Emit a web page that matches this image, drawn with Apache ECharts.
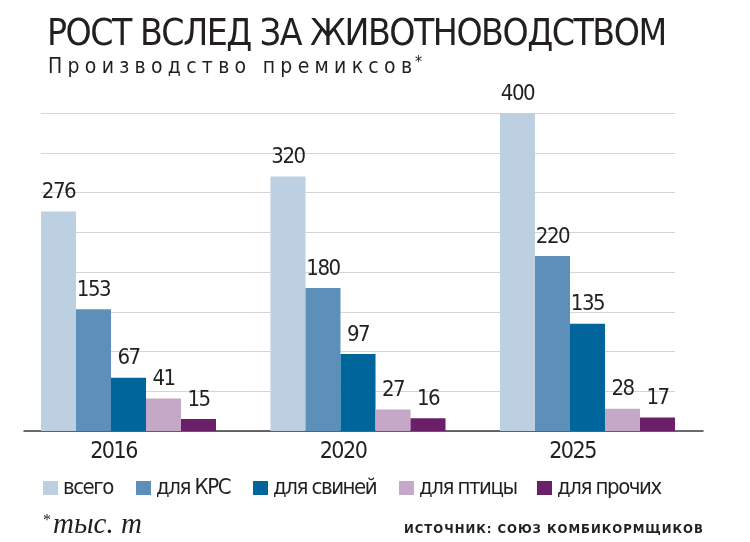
<!DOCTYPE html>
<html>
<head>
<meta charset="utf-8">
<script src="https://cdn.jsdelivr.net/npm/echarts@6/dist/echarts.min.js"></script>
<style>html,body{margin:0;padding:0;background:#fff;}#main{width:750px;height:542px;}</style>
</head>
<body>
<div id="main"></div>
<script>
const categories = ['2016', '2020', '2025'];
const seriesNames = ['всего', 'для КРС', 'для свиней', 'для птицы', 'для прочих'];
const totalValues = [276, 320, 400];
const cattleValues = [153, 180, 220];
const pigValues = [67, 97, 135];
const poultryValues = [41, 27, 28];
const otherValues = [15, 16, 17];
const yTicks = [0, 50, 100, 150, 200, 250, 300, 350, 400];

const titleText = 'РОСТ ВСЛЕД ЗА ЖИВОТНОВОДСТВОМ';
const subtitleText = 'Производство премиксов';
const unitText = 'тыс. т';
const sourceText = 'ИСТОЧНИК: СОЮЗ КОМБИКОРМЩИКОВ';

const FONT = "'Liberation Sans Narrow', 'DejaVu Sans Condensed', 'Roboto Condensed', sans-serif";
const SERIF = '"Liberation Serif", "DejaVu Serif", serif';
const colors = ['#bdd0e1', '#5c90ba', '#00659a', '#c5a8c7', '#6b1f69'];
const ink = '#231f20';

const titleFont = 'normal 37px ' + FONT;
const subtitleFont = 'normal 21px ' + FONT;
const unitFont = 'italic 29px ' + SERIF;
const sourceFont = 'bold 13px ' + FONT;

// letter spacing support for selected texts
const spacingMap = {};
const mctx = document.createElement('canvas').getContext('2d');
function fitSpacing(text, font, target) {
  mctx.font = font;
  const w = mctx.measureText(text).width;
  spacingMap[text] = (target - w) / (text.length - 1);
}
fitSpacing(titleText, titleFont, 620);
fitSpacing(subtitleText, subtitleFont, 364);
fitSpacing(unitText, unitFont, 89);
fitSpacing(sourceText, sourceFont, 299);
const origFill = CanvasRenderingContext2D.prototype.fillText;
CanvasRenderingContext2D.prototype.fillText = function (t, x, y) {
  const ls = spacingMap[t];
  if (ls != null && 'letterSpacing' in this) {
    const prev = this.letterSpacing;
    this.letterSpacing = ls.toFixed(2) + 'px';
    origFill.call(this, t, x, y);
    this.letterSpacing = prev;
    return;
  }
  return origFill.apply(this, arguments);
};

const valueLists = [totalValues, cattleValues, pigValues, poultryValues, otherValues];
const legendLefts = [43, 136, 253, 399, 537];

const chart = echarts.init(document.getElementById('main'), null, { renderer: 'canvas' });
const gridTop = 113, gridHeight = 318;

const option = {
  animation: false,
  backgroundColor: '#fff',
  grid: [
    { left: 13.75, right: 47.75, top: gridTop, height: gridHeight },
    { left: 41, right: 75, top: gridTop, height: gridHeight },
    { left: 24, right: 47, top: gridTop, height: gridHeight }
  ],
  xAxis: [
    {
      type: 'category', gridIndex: 0, data: categories,
      axisLine: { show: false }, axisTick: { show: false },
      axisLabel: {
        margin: 10,
        formatter: v => '{a|' + v + '}',
        rich: { a: { fontFamily: FONT, fontSize: 23, color: ink, padding: [0, 30, 0, 0] } }
      }
    },
    { type: 'value', gridIndex: 1, show: false, min: 0, max: 1 },
    {
      type: 'value', gridIndex: 2, min: 0, max: 1,
      axisLine: { show: true, lineStyle: { color: '#3a3a3a', width: 1.5 } },
      axisTick: { show: false }, axisLabel: { show: false }, splitLine: { show: false }
    }
  ],
  yAxis: [
    { type: 'value', gridIndex: 0, min: yTicks[0], max: yTicks[yTicks.length - 1], interval: 50, show: false },
    {
      type: 'value', gridIndex: 1, min: yTicks[0], max: yTicks[yTicks.length - 1], interval: 50,
      axisLine: { show: false }, axisTick: { show: false }, axisLabel: { show: false },
      splitLine: { show: true, lineStyle: { color: '#d5d5d5', width: 1.2 } }
    },
    { type: 'value', gridIndex: 2, min: 0, max: 1, show: false }
  ],
  legend: seriesNames.map((n, i) => ({
    data: [n], left: legendLefts[i], top: 477, padding: 0,
    icon: 'rect', itemWidth: 15, itemHeight: 14,
    textStyle: { fontFamily: FONT, fontSize: 22, color: ink },
    selectedMode: false
  })),
  series: seriesNames.map((n, i) => ({
    name: n, type: 'bar', xAxisIndex: 0, yAxisIndex: 0,
    data: valueLists[i], barWidth: 35, barGap: '0%',
    itemStyle: { color: colors[i] },
    label: { show: true, position: 'top', distance: 8, fontFamily: FONT, fontSize: 22, color: ink }
  })),
  graphic: [
    { type: 'text', x: 47, y: 35, style: { text: titleText, font: titleFont, fill: ink, verticalAlign: 'middle' } },
    { type: 'text', x: 48, y: 68, style: { text: subtitleText, font: subtitleFont, fill: ink, verticalAlign: 'middle' } },
    { type: 'text', x: 415, y: 63, style: { text: '*', font: 'normal 16px ' + FONT, fill: ink, verticalAlign: 'middle' } },
    { type: 'text', x: 43, y: 521, style: { text: '*', font: 'normal 16px ' + SERIF, fill: ink, verticalAlign: 'middle' } },
    { type: 'text', x: 53, y: 525, style: { text: unitText, font: unitFont, fill: ink, verticalAlign: 'middle' } },
    { type: 'text', x: 404, y: 529.5, style: { text: sourceText, font: sourceFont, fill: ink, verticalAlign: 'middle' } }
  ]
};
chart.setOption(option);
</script>
</body>
</html>
